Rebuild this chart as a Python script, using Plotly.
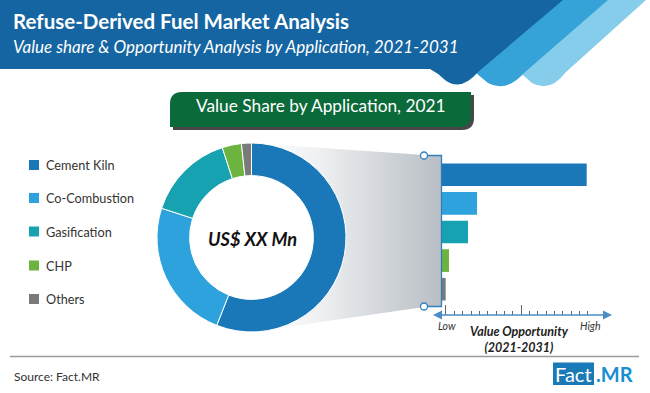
import numpy as np
import plotly.graph_objects as go

# ---------------- data ----------------
categories = ["Cement Kiln", "Co-Combustion", "Gasification", "CHP", "Others"]
share_2021 = [56.0, 24.0, 15.0, 3.3, 1.7]            # value share, %
opportunity = [93.4, 23.1, 17.3, 5.1, 3.0]            # relative value opportunity (low->high)
colors = ["#1a78b8", "#2ea2dc", "#17a2b2", "#6db33f", "#7a7a7a"]

title = "Refuse-Derived Fuel Market Analysis"
subtitle = "Value share & Opportunity Analysis by Application, 2021-2031"
box_title = "Value Share by Application, 2021"
center_label = "US$ XX Mn"
axis_title = "Value Opportunity<br>(2021-2031)"
source = "Source: Fact.MR"

W, H = 650, 393
FONT = "Lato"

fig = go.Figure()

# ---- funnel (gradient) from donut to bar panel ----
cx, cy, R = 251.5, 237.5, 94.5
ang = np.linspace(np.pi / 2, -np.pi / 2, 60)
fx = list(cx + R * np.cos(ang)) + [424, 441, 441, 424]
fy = list(cy - R * np.sin(ang)) + [307, 307, 155, 155]
fx.append(fx[0]); fy.append(fy[0])
fig.add_trace(go.Scatter(
    x=fx, y=fy, mode="lines", line=dict(width=0), fill="toself",
    fillgradient=dict(type="horizontal", start=255, stop=441,
                      colorscale=[[0, "rgba(255,255,255,1)"], [0.35, "#eef0f2"], [1, "#b8bec4"]]),
    hoverinfo="skip", showlegend=False, xaxis="x", yaxis="y"))

# ---- bars ----
fig.add_trace(go.Bar(
    y=categories, x=opportunity, orientation="h", marker=dict(color=colors, line=dict(width=0)),
    width=0.79, xaxis="x2", yaxis="y2", showlegend=False, hoverinfo="x+y"))

# ---- donut ----
fig.add_trace(go.Pie(
    labels=categories, values=share_2021, hole=0.655, sort=False, direction="clockwise",
    rotation=0, marker=dict(colors=colors, line=dict(color="white", width=1)),
    textinfo="none", showlegend=False,
    domain=dict(x=[157 / W, 346 / W], y=[1 - 332 / H, 1 - 143 / H])))

shapes = []
# header stripes
shapes.append(dict(type="path", layer="above", xref="x", yref="y", line=dict(width=0), fillcolor="#86cdec",
                   path="M540,0 L646,0 L566,72 Q550,93 532,83 L515,68 Z"))
shapes.append(dict(type="path", layer="above", xref="x", yref="y", line=dict(width=0), fillcolor="#36a3d8",
                   path="M500,0 L608,0 L524,73 Q506,93 488,83 L470,68 Z"))
shapes.append(dict(type="path", layer="above", xref="x", yref="y", line=dict(width=0), fillcolor="#1565a2",
                   path="M0,0 L563,0 L478,72 Q461,92 445,80 Q438,73 430,69 L0,69 Z"))
# green box with shadow
shapes.append(dict(type="path", layer="above", xref="x", yref="y", line=dict(width=0), fillcolor="#474747",
                   path="M173,107 Q173,95 185,95 L474,95 L474,118 Q474,130 462,130 L173,130 Z"))
shapes.append(dict(type="path", layer="above", xref="x", yref="y", line=dict(width=0), fillcolor="#0b6a39",
                   path="M170,104 Q170,92 182,92 L471,92 L471,115 Q471,127 459,127 L170,127 Z"))
# bar panel border + knobs
shapes.append(dict(type="path", layer="above", xref="x", yref="y", line=dict(color="#2f7fbf", width=1.3),
                   path="M424,155.5 L441.5,155.5 L441.5,306.5 L424,306.5"))
for yy in (155.5, 306.5):
    shapes.append(dict(type="circle", layer="above", xref="x", yref="y", x0=420.5, x1=427.5, y0=yy - 3.5, y1=yy + 3.5,
                       line=dict(color="#2f7fbf", width=1.3), fillcolor="white"))
# legend squares
leg_y = [165, 198, 231.5, 265.5, 299]
for c, yy in zip(colors, leg_y):
    shapes.append(dict(type="rect", layer="above", xref="x", yref="y", x0=29, x1=39, y0=yy - 5, y1=yy + 5,
                       line=dict(width=0), fillcolor=c))
# footer line
shapes.append(dict(type="line", layer="above", xref="x", yref="y", x0=10, x1=639, y0=356.5, y1=356.5,
                   line=dict(color="#9a9a9a", width=1.5)))
# logo box
shapes.append(dict(type="rect", layer="above", xref="x", yref="y", x0=553, x1=594, y0=362.5, y1=385,
                   line=dict(width=0), fillcolor="#1a7ab8"))

ann = []
def A(x, y, text, size, color="#333", xanchor="center", **kw):
    ann.append(dict(x=x, y=y, xref="x", yref="y", text=text, showarrow=False, xanchor=xanchor, yanchor="middle",
                    font=dict(family=FONT, size=size, color=color), **kw))

A(11, 21, "<b>" + title + "</b>", 20.5, "white", "left")
A(11, 46, "<i>" + subtitle + "</i>", 17, "white", "left")
A(321, 105, box_title, 17.3, "white")
A(252, 239, "<b><i>" + center_label + "</i></b>", 18.2, "#111")
for lab, yy in zip(categories, leg_y):
    A(44, yy, lab, 12.7, "#333", "left")
A(447, 326, "<i>Low</i>", 10.5, "#333")
A(590, 326, "<i>High</i>", 10.5, "#333")
A(519.5, 339, "<b><i>" + axis_title + "</i></b>", 12.5, "#222")
A(12, 376, source, 12, "#333", "left")
A(573.5, 373.5, "Fact", 20, "white")
A(614.5, 373.5, "<b>.MR</b>", 20, "#1a8fd0")
# double-headed arrow for the opportunity scale
ann.append(dict(x=612, y=315, ax=431.5, ay=315, xref="x", yref="y", axref="x", ayref="y", text="",
                showarrow=True, arrowside="end+start", arrowhead=2, arrowsize=1.2, arrowwidth=1.5,
                arrowcolor="#4a8cc6"))

fig.update_layout(
    width=W, height=H, margin=dict(l=0, r=0, t=0, b=0), paper_bgcolor="white", plot_bgcolor="rgba(0,0,0,0)",
    showlegend=False, shapes=shapes, annotations=ann,
    xaxis=dict(range=[0, W], domain=[0, 1], visible=False, fixedrange=True),
    yaxis=dict(range=[H, 0], domain=[0, 1], visible=False, fixedrange=True),
    xaxis2=dict(range=[0, 100], domain=[441 / W, 597 / W], anchor="y2", showgrid=False, zeroline=False,
                showline=False, showticklabels=False, ticks="inside", ticklen=10, tickwidth=1, tickcolor="#666",
                tick0=3.2, dtick=48.1,
                minor=dict(ticks="inside", ticklen=4, tickwidth=1, tickcolor="#666", tick0=3.2, dtick=48.1 / 9)),
    yaxis2=dict(type="category", range=[4.902, -0.668], domain=[1 - 315 / H, 1 - 155.7 / H], anchor="x2",
                showgrid=False, zeroline=False, showline=False, showticklabels=False, ticks=""),
    bargap=0.2,
)

fig.write_html("out.html", config={"displayModeBar": False},
               post_script="document.body.style.margin='0px';document.body.style.overflow='hidden';")
